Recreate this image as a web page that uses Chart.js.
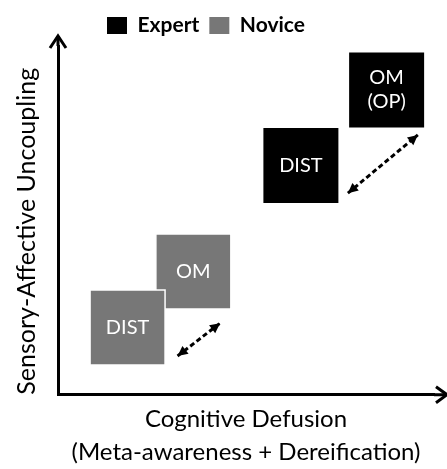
<!DOCTYPE html>
<html>
<head>
<meta charset="utf-8">
<script src="https://cdn.jsdelivr.net/npm/chart.js@4.4.0/dist/chart.umd.min.js"></script>
<style>
  html, body { margin: 0; padding: 0; background: #fff; }
</style>
</head>
<body>
<canvas id="myChart" width="447" height="469"></canvas>
<script>
// squares are listed OM first so that DIST lies on top of it
var expertLabels = [["OM", "(OP)"], "DIST"];
var expertX = [87.4, 64.6];
var expertY = [87.4, 65.7];
var noviceLabels = ["OM", "DIST"];
var noviceX = [36.0, 18.5];
var noviceY = [35.3, 19.3];

// dashed double arrows (tip to tip)
var expertArrowX = [77.1, 95.7];
var expertArrowY = [57.8, 74.5];
var noviceArrowX = [31.8, 43.1];
var noviceArrowY = [11.1, 20.5];

var legendLabels = ["Expert", "Novice"];
var xTitle = ["Cognitive Defusion", "(Meta-awareness + Dereification)"];
var yTitle = "Sensory-Affective Uncoupling";

const BLACK = "#000000";
const GRAY = "#777777";
const side = 75;

function toPoints(xs, ys) {
  return xs.map((x, i) => ({ x: x, y: ys[i] }));
}

function arrowHead(c, tipX, tipY, fromX, fromY, len, half) {
  const a = Math.atan2(tipY - fromY, tipX - fromX);
  c.beginPath();
  c.moveTo(tipX, tipY);
  c.lineTo(tipX - len * Math.cos(a) + half * Math.sin(a), tipY - len * Math.sin(a) - half * Math.cos(a));
  c.lineTo(tipX - len * Math.cos(a) - half * Math.sin(a), tipY - len * Math.sin(a) + half * Math.cos(a));
  c.closePath();
  c.fill();
}

const decorations = {
  id: "decorations",
  afterLayout(chart) {
    // move the legend over to where it sits in the figure
    chart.legend.left += 85;
    chart.legend.right += 85;
  },
  afterDatasetsDraw(chart) {
    const c = chart.ctx;
    const area = chart.chartArea;
    c.save();

    // axis arrows
    c.strokeStyle = BLACK;
    c.lineWidth = 3;
    c.beginPath();
    c.moveTo(area.left, area.top);
    c.lineTo(area.left, 37);
    c.moveTo(area.right, area.bottom);
    c.lineTo(446, area.bottom);
    c.stroke();
    c.lineJoin = "miter";
    c.beginPath();
    c.moveTo(area.left - 8, 48);
    c.lineTo(area.left, 36);
    c.lineTo(area.left + 8, 48);
    c.moveTo(436, area.bottom - 8);
    c.lineTo(447, area.bottom);
    c.lineTo(436, area.bottom + 8);
    c.stroke();

    // arrow heads on the dashed lines
    c.fillStyle = BLACK;
    chart.data.datasets.forEach((ds, i) => {
      if (!ds.arrow) return;
      const pts = chart.getDatasetMeta(i).data;
      const p0 = pts[0], p1 = pts[pts.length - 1];
      arrowHead(c, p0.x, p0.y, p1.x, p1.y, 10, 5);
      arrowHead(c, p1.x, p1.y, p0.x, p0.y, 10, 5);
    });

    // text inside the squares
    c.fillStyle = "#ffffff";
    c.textAlign = "center";
    c.textBaseline = "middle";
    c.font = "20px Lato";
    chart.data.datasets.forEach((ds, i) => {
      if (!ds.squareLabels) return;
      chart.getDatasetMeta(i).data.forEach((p, j) => {
        const lines = [].concat(ds.squareLabels[j]);
        lines.forEach((t, k) => {
          c.fillText(t, p.x, p.y + (k - (lines.length - 1) / 2) * 24);
        });
      });
    });
    c.restore();
  }
};

const ctx = document.getElementById("myChart");
Chart.defaults.font.family = "Lato";
Chart.defaults.color = BLACK;

new Chart(ctx, {
  type: "scatter",
  data: {
    datasets: [
      {
        label: "Expert",
        data: toPoints(expertX, expertY),
        squareLabels: expertLabels,
        backgroundColor: BLACK,
        borderWidth: 0,
        pointStyle: "rect",
        pointRadius: side / Math.SQRT2,
        pointHoverRadius: side / Math.SQRT2,
        clip: false,
      },
      {
        label: "Novice",
        data: toPoints(noviceX, noviceY),
        squareLabels: noviceLabels,
        backgroundColor: GRAY,
        borderColor: "#ffffff",
        borderWidth: 1.5,
        pointStyle: "rect",
        pointRadius: side / Math.SQRT2,
        pointHoverRadius: side / Math.SQRT2,
        clip: false,
      },
      {
        label: "expert arrow",
        data: toPoints(expertArrowX, expertArrowY),
        showLine: true,
        borderColor: BLACK,
        borderWidth: 3,
        borderDash: [5, 3],
        pointRadius: 0,
        arrow: true,
      },
      {
        label: "novice arrow",
        data: toPoints(noviceArrowX, noviceArrowY),
        showLine: true,
        borderColor: BLACK,
        borderWidth: 3,
        borderDash: [5, 3],
        pointRadius: 0,
        arrow: true,
      },
    ],
  },
  options: {
    responsive: false,
    animation: false,
    layout: { autoPadding: false, padding: { left: 12, right: 13, top: 5, bottom: 1 } },
    plugins: {
      tooltip: { enabled: false },
      legend: {
        align: "start",
        labels: {
          boxWidth: 20,
          boxHeight: 17,
          padding: 10,
          color: BLACK,
          font: { size: 21, weight: "bold" },
          generateLabels: () =>
            legendLabels.map((text, i) => ({
              text: text,
              fillStyle: [BLACK, GRAY][i],
              strokeStyle: [BLACK, GRAY][i],
              lineWidth: 0,
              hidden: false,
              datasetIndex: i,
            })),
        },
      },
    },
    scales: {
      x: {
        type: "linear",
        min: 0,
        max: 100,
        ticks: { display: false },
        grid: { display: false, drawTicks: false },
        border: { display: true, color: BLACK, width: 3 },
        title: {
          display: true,
          text: xTitle,
          color: BLACK,
          font: { size: 24, lineHeight: 1.34 },
          padding: { top: 9, bottom: 0 },
        },
      },
      y: {
        type: "linear",
        min: 0,
        max: 100,
        ticks: { display: false },
        grid: { display: false, drawTicks: false },
        border: { display: true, color: BLACK, width: 3 },
        title: {
          display: true,
          text: yTitle,
          align: "start",
          color: BLACK,
          font: { size: 25, lineHeight: 1.2 },
          padding: { top: 0, bottom: 16 },
        },
      },
    },
  },
  plugins: [decorations],
});
</script>
</body>
</html>
